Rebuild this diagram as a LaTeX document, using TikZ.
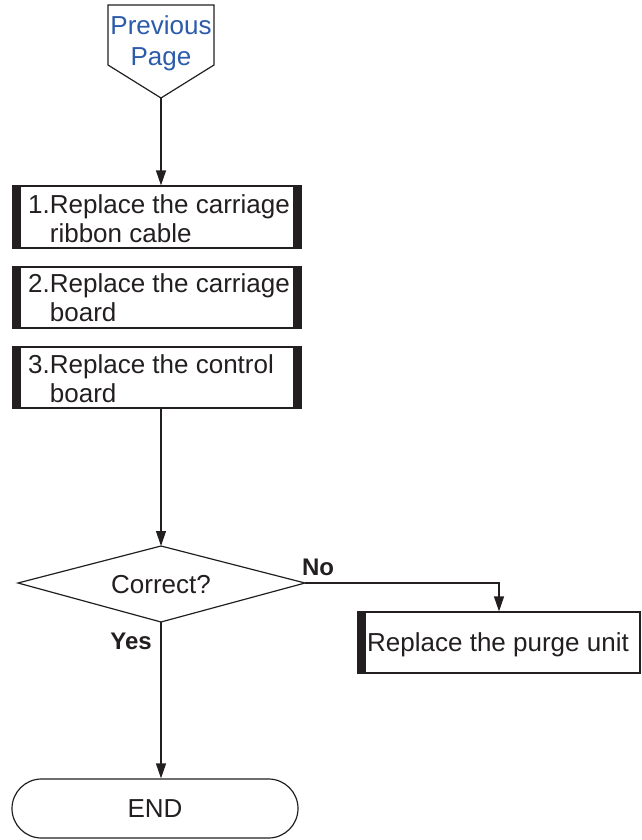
\documentclass[tikz,border=0pt]{standalone}
\usepackage{fontspec}
\setmainfont{Liberation Sans}
\usetikzlibrary{arrows.meta,calc}
\definecolor{ink}{HTML}{231F20}
\definecolor{pblue}{HTML}{2B5BAA}
\begin{document}
\begin{tikzpicture}[x=1pt,y=-1pt,
  every node/.style={font=\fontsize{26}{29}\selectfont, text=ink},
  line/.style={draw=ink, line width=1.2pt},
  arr/.style={line, -{Triangle[length=15pt,width=10pt]}},
  stepbox/.style={draw=ink, line width=1.2pt, minimum width=288pt, minimum height=61pt, inner sep=0pt},
  bar/.style={fill=ink},
  lbl/.style={anchor=base west, inner sep=0pt},
  yn/.style={font=\fontsize{24}{28}\selectfont\bfseries, inner sep=0pt}]
\useasboundingbox (0,0) rectangle (641,840);

% Previous page connector
\coordinate (pp) at (161,98);
\draw[line] (108,5) -- (214,5) -- (214,65) -- (pp) -- (108,65) -- cycle;
\node[text=pblue, align=center, inner sep=0pt, font=\fontsize{26}{31}\selectfont] (prev) at (161,43) {Previous\\Page};

% Step boxes
\node[stepbox, minimum height=62pt] (b1) at (157,217) {};
\node[stepbox] (b2) at (157,297.5) {};
\node[stepbox] (b3) at (157,377.5) {};
\foreach \b in {b1,b2,b3}{
  \fill[bar] (\b.north west) rectangle ([xshift=8.5pt]\b.south west);
  \fill[bar] ([xshift=-8.5pt]\b.north east) rectangle (\b.south east);
}
\node[lbl] (t1) at (28,213) {\begin{tabular}[t]{@{}l@{}l@{}}1.&Replace the carriage\\&ribbon cable\end{tabular}};
\node[lbl] (t2) at (28,292) {\begin{tabular}[t]{@{}l@{}l@{}}2.&Replace the carriage\\&board\end{tabular}};
\node[lbl] (t3) at (28,373) {\begin{tabular}[t]{@{}l@{}l@{}}3.&Replace the control\\&board\end{tabular}};

\draw[arr] (pp) -- (pp |- b1.north);

% Decision
\coordinate (dt) at (161,546);
\coordinate (dr) at (305,583);
\coordinate (db) at (161,622);
\coordinate (dl) at (18,583);
\draw[line] (dt) -- (dr) -- (db) -- (dl) -- cycle;
\node (q) at (161,585) {Correct?};
\draw[arr] (b3.south -| dt) -- (dt);

% No branch
\node[stepbox, minimum width=282pt] (pu) at (499,642.5) {};
\fill[bar] (pu.north west) rectangle ([xshift=8.5pt]pu.south west);
\node[lbl] (tpu) at (367,651) {Replace the purge unit};
\draw[arr] (dr) -| (pu.north);
\node[yn] (no) at (318,567) {No};

% Yes branch
\node[draw=ink, line width=1.2pt, rounded corners=29.5pt, minimum width=286pt, minimum height=59pt, inner sep=0pt] (end) at (155,808.5) {END};
\draw[arr] (db) -- (db |- end.north);
\node[yn] (yes) at (131,641) {Yes};
\end{tikzpicture}
\end{document}
